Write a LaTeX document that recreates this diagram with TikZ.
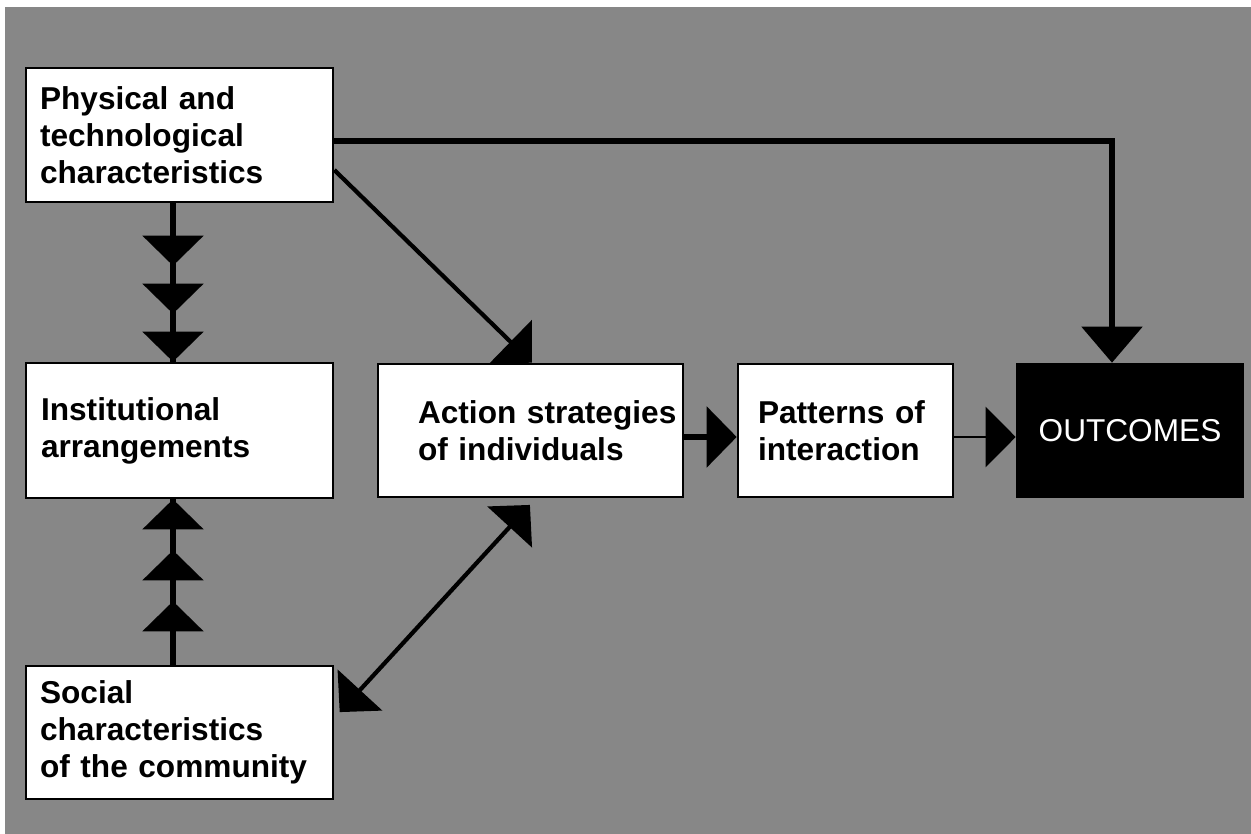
\documentclass[tikz,border=0pt]{standalone}
\usepackage{fontspec}
\setmainfont{Liberation Sans}
\usetikzlibrary{arrows.meta}
\newcommand\boxfont{\fontsize{18pt}{21pt}\selectfont\bfseries}
\newcommand\outfont{\fontsize{18pt}{21pt}\selectfont}
\begin{document}
\begin{tikzpicture}[x=0.02cm, y=-0.02cm,
  box/.style={draw=black, line width=1.5pt, fill=white, text=black, align=left,
    inner xsep=0pt, inner ysep=0pt, font=\boxfont},
  darkbox/.style={draw=black, line width=1.5pt, fill=black, text=white, align=center,
    inner sep=0pt, font=\outfont},
  thickline/.style={draw=black, line width=3.2pt, line join=miter},
  thinline/.style={draw=black, line width=2.4pt},
  hairline/.style={draw=black, line width=1.6pt},
  bigtri/.tip={Triangle[width=1.2cm, length=0.6cm]},
]
% paper and grey ground
\useasboundingbox (0,0) rectangle (1251,834);
\fill[white] (0,0) rectangle (1251,834);
\fill[black!47] (5,7) rectangle (1251,834);

% boxes
\node[box, minimum width=6.14cm, minimum height=2.68cm, text width=6.14cm] (phys) at (179.5,135)
  {\leftskip=0.28cm\relax Physical and\\technological\\characteristics\par};
\node[box, minimum width=6.14cm, minimum height=2.70cm, text width=6.14cm] (inst) at (179.5,430.5)
  {\leftskip=0.30cm\relax Institutional\\arrangements\par};
\node[box, minimum width=6.14cm, minimum height=2.66cm, text width=6.14cm] (soc) at (179.5,732.5)
  {\leftskip=0.28cm\relax Social\\characteristics\\of the community\par};
\node[box, minimum width=6.10cm, minimum height=2.66cm, text width=6.10cm] (act) at (530.5,430.5)
  {\leftskip=0.80cm\relax Action strategies\\of individuals\par};
\node[box, minimum width=4.30cm, minimum height=2.66cm, text width=4.30cm] (pat) at (845.5,430.5)
  {\leftskip=0.40cm\relax Patterns of\\interaction\par};
\node[darkbox, minimum width=4.52cm, minimum height=2.66cm] (outc) at (1130,430.5) {OUTCOMES};

% physical characteristics feed outcomes directly and action strategies
\draw[thickline, -{Triangle[width=1.2cm, length=0.72cm]}]
  (phys.east |- 0,141) -| (outc.north -| 1112,0);
\draw[thinline, -bigtri] (phys.east |- 0,170) -- (act.north -| 532,0);

% physical -> institutional (triple head)
\draw[thickline] (phys.south -| 173,0) -- (inst.north -| 173,0);
\draw[thickline, -{Triangle[width=1.2cm, length=0.6cm, sep=0.36cm]
                   Triangle[width=1.2cm, length=0.6cm, sep=0.36cm]
                   Triangle[width=1.2cm, length=0.6cm]}]
  (phys.south -| 173,0) -- (inst.north -| 173,0);

% social -> institutional (triple head)
\draw[thickline] (soc.north -| 173,0) -- (inst.south -| 173,0);
\draw[thickline, -{Triangle[width=1.2cm, length=0.6cm, sep=0.42cm]
                   Triangle[width=1.2cm, length=0.6cm, sep=0.42cm]
                   Triangle[width=1.2cm, length=0.6cm]}]
  (soc.north -| 173,0) -- (inst.south -| 173,0);

% action strategies <-> social characteristics
\draw[thinline, bigtri-bigtri, shorten <=0.18cm, shorten >=0.16cm]
  (act.south -| 536,0) -- (soc.east |- 0,718);

% chain to outcomes
\draw[thickline, -bigtri] (act.east |- 0,437) -- (pat.west |- 0,437);
\draw[hairline, -bigtri] (pat.east |- 0,437) -- (outc.west |- 0,437);
\end{tikzpicture}
\end{document}
